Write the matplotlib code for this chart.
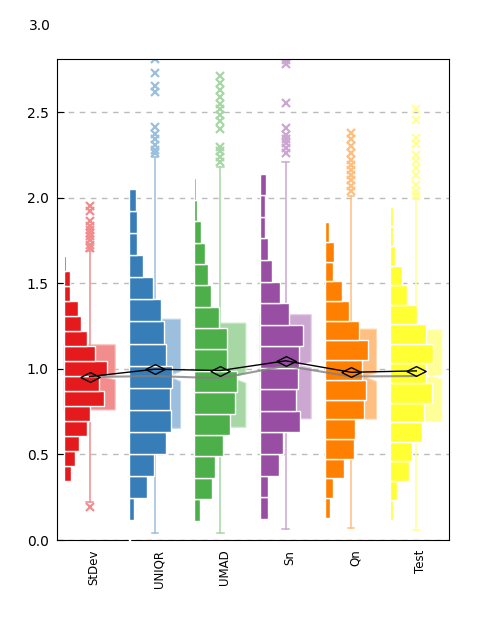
import numpy as np
import matplotlib.pyplot as plt
import matplotlib.transforms as mtransforms
from matplotlib.colors import to_rgb

# Kategorie i kolory (Set1)
labels = ['StDev', 'UNIQR', 'UMAD', 'Sn', 'Qn', 'Test']
colors = ['#e41a1c', '#377eb8', '#4daf4a', '#984ea3', '#ff7f00', '#ffff33']

# Histogramy: dolna krawedz pierwszego kosza, szerokosc kosza, liczebnosci (od dolu)
hist_start = [0.259, -0.014, 0.113, 0.125, 0.129, 0.117]
hist_step = [0.0874, 0.1291, 0.125, 0.1259, 0.1152, 0.1143]
hist_counts = [
    [3, 21, 36, 48, 72, 81, 123, 108, 130, 96, 72, 54, 45, 18, 18, 8],
    [2, 16, 55, 76, 112, 128, 125, 131, 113, 107, 98, 74, 43, 25, 25, 20, 4],
    [18, 54, 63, 87, 108, 123, 130, 100, 100, 75, 51, 42, 33, 21, 9, 6, 3],
    [24, 27, 60, 72, 123, 111, 115, 120, 130, 90, 63, 39, 24, 15, 15, 18, 3],
    [15, 24, 57, 87, 90, 117, 123, 111, 129, 102, 72, 51, 24, 27, 12, 3],
    [9, 21, 57, 66, 96, 102, 126, 108, 129, 108, 81, 51, 36, 15, 9, 9, 2],
]

# Wykresy pudelkowe
whis_lo = [0.22, 0.04, 0.043, 0.064, 0.068, 0.058]
q1 = [0.76, 0.653, 0.659, 0.708, 0.706, 0.692]
medians = [0.952, 0.958, 0.945, 1.018, 0.955, 0.958]
q3 = [1.14, 1.29, 1.267, 1.316, 1.232, 1.228]
whis_hi = [1.69, 2.24, 2.18, 2.209, 2.01, 1.99]
ci_lo = [0.936, 0.926, 0.916, 1.006, 0.926, 0.94]
ci_hi = [0.965, 0.984, 0.979, 1.043, 0.975, 0.965]
means = [0.955, 0.998, 0.99, 1.047, 0.98, 0.988]
fliers = [
    [0.19, 1.706, 1.725, 1.754, 1.774, 1.793, 1.813, 1.832, 1.862, 1.92, 1.949],
    [2.26, 2.28, 2.31, 2.34, 2.37, 2.41, 2.62, 2.65, 2.73, 2.81],
    [2.21, 2.24, 2.27, 2.295, 2.40, 2.446, 2.485, 2.52, 2.55, 2.59, 2.63, 2.67, 2.71],
    [2.26, 2.29, 2.32, 2.34, 2.368, 2.407, 2.554, 2.78, 2.807],
    [2.037, 2.066, 2.105, 2.134, 2.164, 2.19, 2.22, 2.26, 2.30, 2.34, 2.378],
    [2.018, 2.037, 2.076, 2.134, 2.174, 2.212, 2.251, 2.314, 2.349, 2.456, 2.515],
]
yticks = [0.0, 0.5, 1.0, 1.5, 2.0, 2.5]


def lighten(c, amount):
    r = np.array(to_rgb(c))
    return tuple(1 - (1 - r) * amount)


fig = plt.figure(figsize=(4.98, 6.21), dpi=100)
ax = fig.add_axes([0.1145, 0.1304, 0.7871, 0.7746])

positions = np.arange(1, len(labels) + 1)
max_count = max(max(c) for c in hist_counts)

for i, pos in enumerate(positions):
    col = colors[i]
    light = lighten(col, 0.5)
    stats = [dict(med=medians[i], q1=q1[i], q3=q3[i], whislo=whis_lo[i],
                  whishi=whis_hi[i], cilo=ci_lo[i], cihi=ci_hi[i],
                  fliers=fliers[i], mean=means[i])]
    ax.bxp(stats, positions=[pos], widths=0.78, capwidths=0.1,
           shownotches=True, patch_artist=True, manage_ticks=False,
           boxprops=dict(facecolor=light, edgecolor=lighten(col, 0.3), linewidth=0.8),
           whiskerprops=dict(color=light, linewidth=1.1),
           capprops=dict(color=light, linewidth=1.1),
           medianprops=dict(color='white', linewidth=1.5),
           flierprops=dict(marker='x', markeredgecolor=light, markersize=6,
                           markeredgewidth=1.6),
           zorder=2)

    counts = np.array(hist_counts[i])
    bottoms = hist_start[i] + hist_step[i] * np.arange(len(counts))
    ax.barh(bottoms, counts / max_count * 0.665, height=hist_step[i],
            left=pos - 0.4, align='edge', color=col, edgecolor='white',
            linewidth=1, zorder=3, clip_on=False)

# Linie mediany i sredniej
ax.plot(positions, medians, color='gray', linewidth=1.5, alpha=0.8, zorder=4)
ax.plot(positions, means, color='black', linewidth=1, zorder=5)
diamond = [(-1, 0), (0, 0.5), (1, 0), (0, -0.5), (-1, 0)]
ax.plot(positions, means, linestyle='none', marker=diamond, markersize=14,
        markerfacecolor='none', markeredgecolor='black', markeredgewidth=1,
        zorder=6)

ax.set_xlim(0.5, 6.5)
ax.set_ylim(0, 2.81)
ax.set_xticks(positions)
ax.set_xticklabels(labels, rotation=90, fontsize=8.5)
ax.tick_params(axis='x', length=0, pad=7)
shift = mtransforms.ScaledTranslation(4 / 100, 0, fig.dpi_scale_trans)
for lab in ax.get_xticklabels():
    lab.set_transform(lab.get_transform() + shift)
ax.set_yticks(yticks)
ax.set_yticklabels(['%.1f' % v for v in yticks], fontsize=10)
ax.tick_params(axis='y', direction='in', length=5, pad=6)
ax.text(-0.016, 3.0, '3.0', transform=ax.get_yaxis_transform(),
        ha='right', va='center', fontsize=10, clip_on=False)

ax.set_axisbelow(True)
ax.yaxis.grid(True, linestyle=(0, (4, 4)), color='#bbbbbb', linewidth=1)

plt.savefig('out.png', dpi=100)
